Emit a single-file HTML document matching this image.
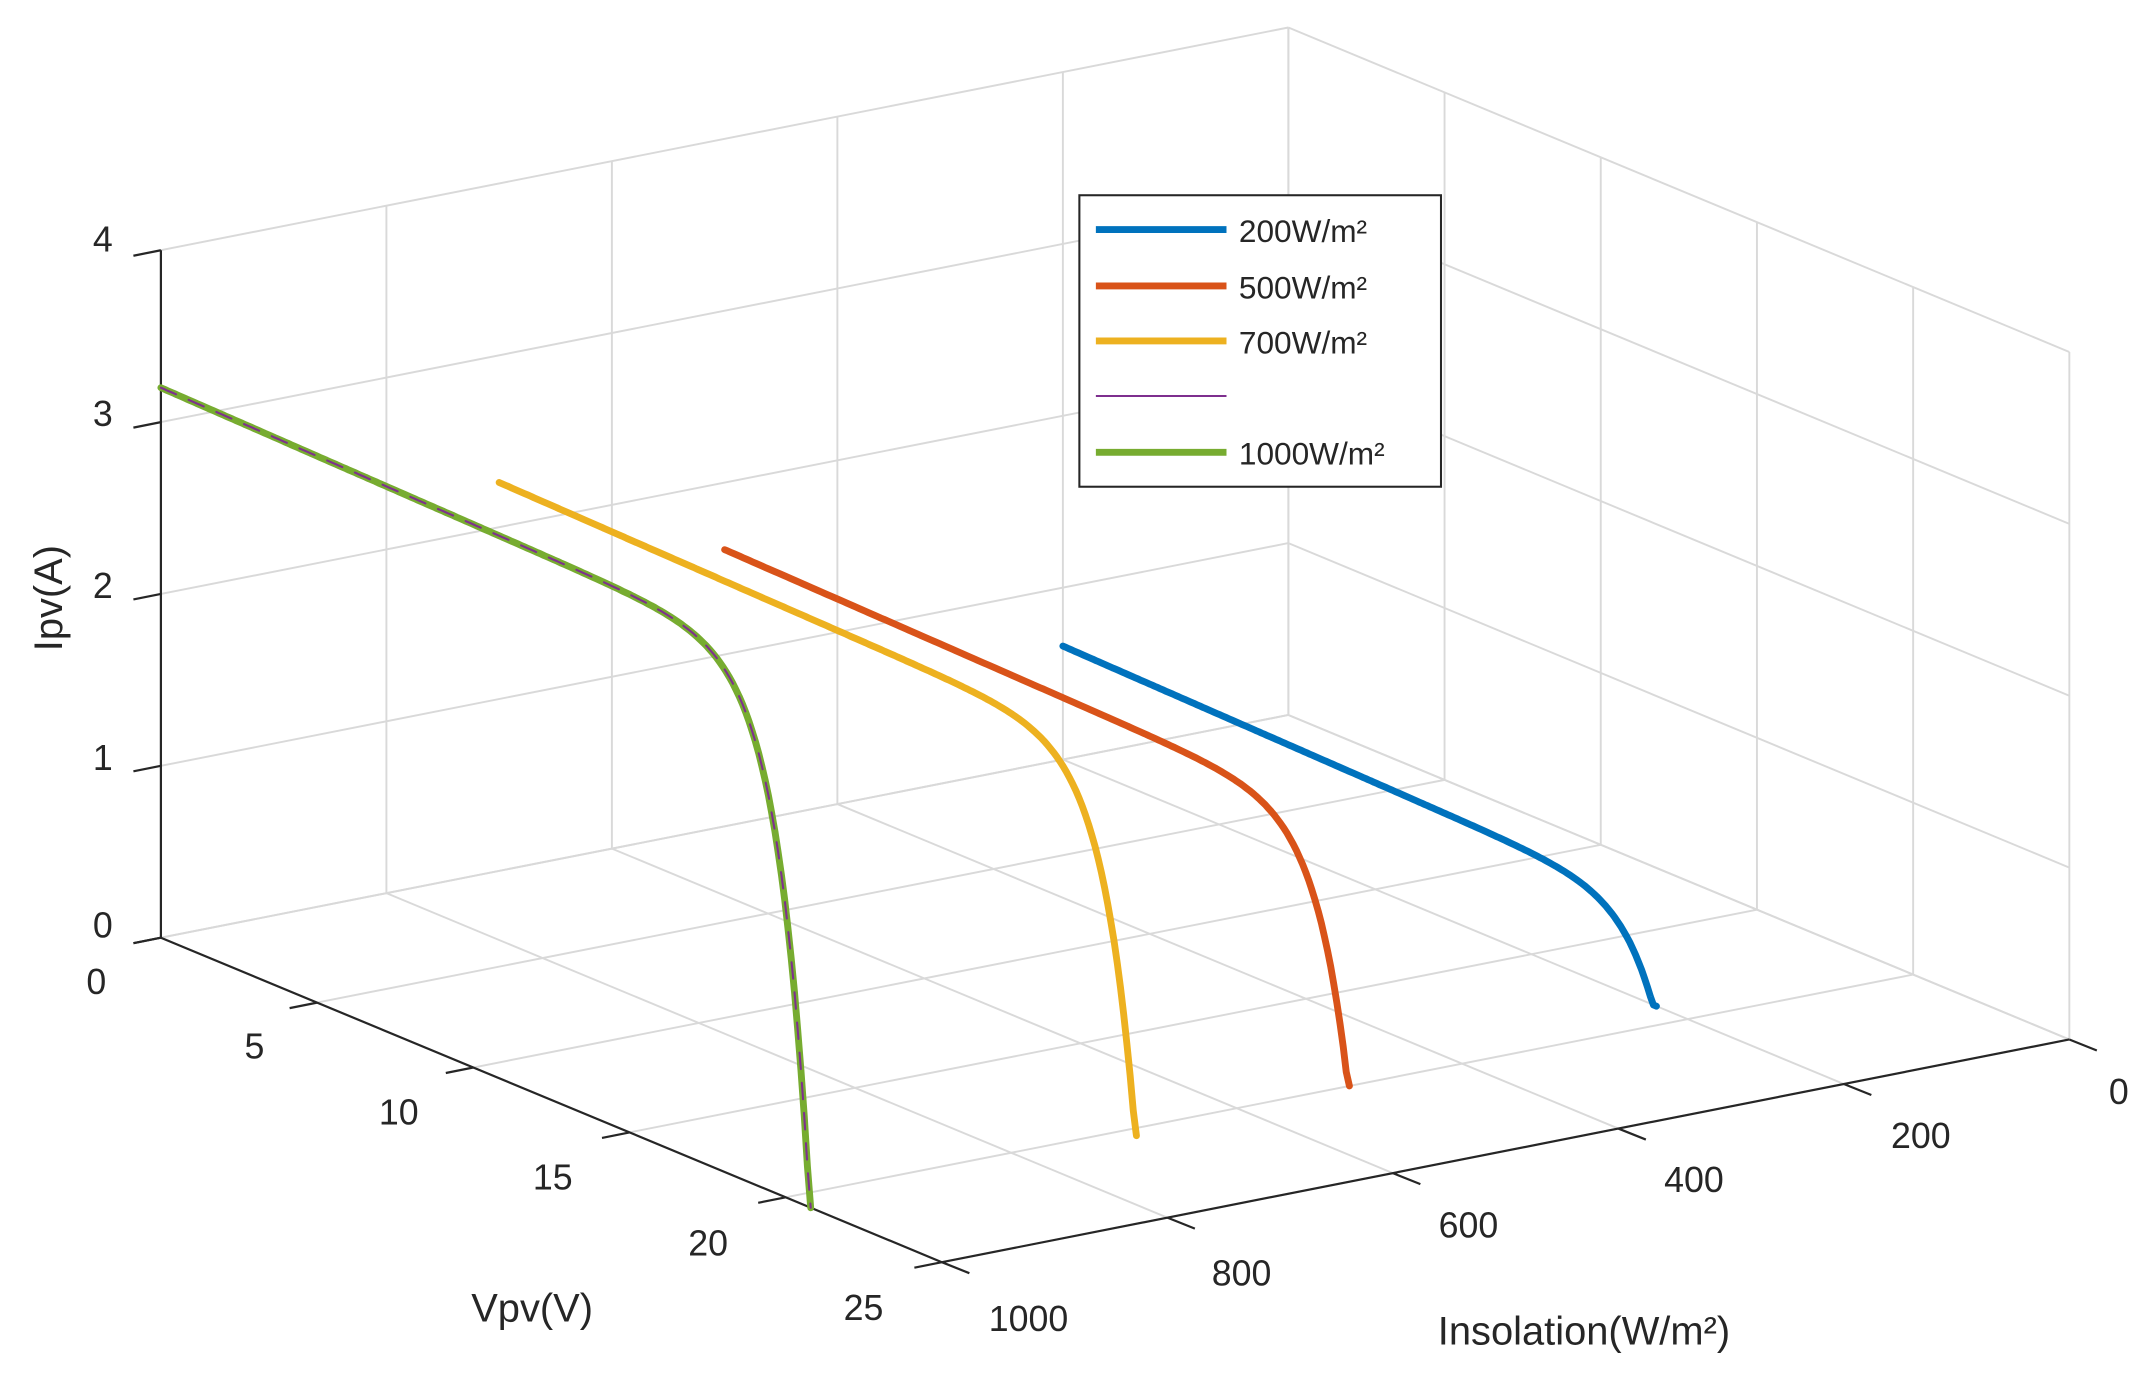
<!DOCTYPE html>
<html><head><meta charset="utf-8"><style>html,body{margin:0;padding:0;background:#fff}svg{display:block}text{font-family:"Liberation Sans",Arial,sans-serif;fill:#262626}</style></head>
<body>
<svg id="s" width="2156" height="1392" viewBox="0 0 1568 1012.4" xmlns="http://www.w3.org/2000/svg">
<g id="grid" stroke="#d9d9d9" stroke-width="1.4" fill="none"></g>
<g id="axes" stroke="#262626" stroke-width="1.6" fill="none"></g>
<g id="curves" fill="none" stroke-linecap="round" stroke-linejoin="round"></g>
<g font-size="26">
<text x="82" y="183" text-anchor="end">4</text>
<text x="82" y="310" text-anchor="end">3</text>
<text x="82" y="435" text-anchor="end">2</text>
<text x="82" y="560" text-anchor="end">1</text>
<text x="82" y="682" text-anchor="end">0</text>
<text x="70" y="723" text-anchor="middle">0</text>
<text x="185" y="770" text-anchor="middle">5</text>
<text x="290" y="818" text-anchor="middle">10</text>
<text x="402" y="865" text-anchor="middle">15</text>
<text x="515" y="913" text-anchor="middle">20</text>
<text x="628" y="960" text-anchor="middle">25</text>
<text x="748" y="968" text-anchor="middle">1000</text>
<text x="903" y="935" text-anchor="middle">800</text>
<text x="1068" y="900" text-anchor="middle">600</text>
<text x="1232" y="867" text-anchor="middle">400</text>
<text x="1397" y="835" text-anchor="middle">200</text>
<text x="1541" y="803" text-anchor="middle">0</text>
<text x="387" y="961" text-anchor="middle" font-size="29">Vpv(V)</text>
<text x="1152" y="978" text-anchor="middle" font-size="29">Insolation(W/m²)</text>
<text transform="translate(45,435) rotate(-90)" text-anchor="middle" font-size="29">Ipv(A)</text>
</g>
<g>
<rect x="785" y="142" width="263" height="212" fill="#fff" stroke="#262626" stroke-width="1.5"/>
<line x1="797" y1="167" x2="892" y2="167" stroke="#0072bd" stroke-width="5"/>
<line x1="797" y1="208" x2="892" y2="208" stroke="#d95319" stroke-width="5"/>
<line x1="797" y1="248" x2="892" y2="248" stroke="#edb120" stroke-width="5"/>
<line x1="797" y1="288" x2="892" y2="288" stroke="#7e2f8e" stroke-width="1.5"/>
<line x1="797" y1="329" x2="892" y2="329" stroke="#77ac30" stroke-width="5"/>
<g font-size="23"><text x="901" y="176">200W/m²</text><text x="901" y="217">500W/m²</text><text x="901" y="257">700W/m²</text><text x="901" y="338">1000W/m²</text></g>
</g>
<script>
function P(V,I,z){return [117+V*22.72+(1000-I)*0.82, 682+V*9.44-(1000-I)*0.162-z*125];}
const ns="http://www.w3.org/2000/svg";
function L(g,a,b,attrs){const l=document.createElementNS(ns,'line');l.setAttribute('x1',a[0]);l.setAttribute('y1',a[1]);l.setAttribute('x2',b[0]);l.setAttribute('y2',b[1]);if(attrs)for(const k in attrs)l.setAttribute(k,attrs[k]);g.appendChild(l);}
const G=document.getElementById('grid'),A=document.getElementById('axes'),C=document.getElementById('curves');
for(let z=0;z<=4;z++){L(G,P(0,1000,z),P(0,0,z));L(G,P(0,0,z),P(25,0,z));}
for(let I=0;I<=1000;I+=200){L(G,P(0,I,0),P(0,I,4));L(G,P(0,I,0),P(25,I,0));}
for(let V=0;V<=25;V+=5){L(G,P(V,0,0),P(V,0,4));L(G,P(V,1000,0),P(V,0,0));}
L(A,P(0,1000,0),P(0,1000,4));L(A,P(0,1000,0),P(25,1000,0));L(A,P(25,1000,0),P(25,0,0));
for(let z=0;z<=4;z++){const p=P(0,1000,z);L(A,p,[p[0]-20,p[1]+4]);}
for(let V=0;V<=25;V+=5){const p=P(V,1000,0);L(A,p,[p[0]-20,p[1]+4]);}
for(let I=0;I<=1000;I+=200){const p=P(25,I,0);L(A,p,[p[0]+20,p[1]+8]);}
function curve(I,Isc,Voc,col,w,dash){let pts=[];for(let i=0;i<=200;i++){const V=Voc*i/200;let c=Isc*(1-Math.exp((V-Voc)/1.0))-0.004*V;if(c<0)c=0;const p=P(V,I,c);pts.push(p[0].toFixed(1)+','+p[1].toFixed(1));}
const pl=document.createElementNS(ns,'polyline');pl.setAttribute('points',pts.join(' '));pl.setAttribute('stroke',col);pl.setAttribute('stroke-width',w);if(dash)pl.setAttribute('stroke-dasharray',dash);C.appendChild(pl);}
curve(200,0.66,19.0,'#0072bd',5);
curve(500,1.61,20.0,'#d95319',5);
curve(700,2.26,20.4,'#edb120',5);
curve(1000,3.2,20.8,'#77ac30',5);
curve(1000,3.2,20.8,'#7e2f8e',1.5,'12 10');
</script>
</svg>
</body></html>
